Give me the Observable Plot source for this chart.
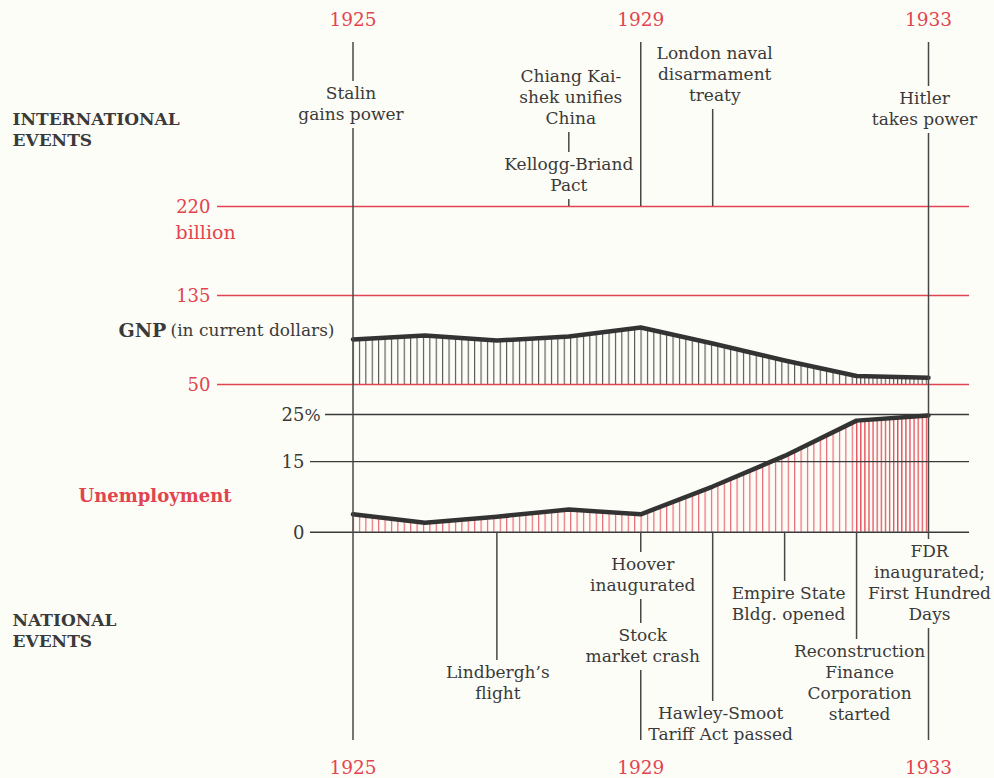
<!DOCTYPE html>
<html>
<head>
<meta charset="utf-8">
<script src="https://cdn.jsdelivr.net/npm/d3@7"></script>
<script src="https://cdn.jsdelivr.net/npm/@observablehq/plot@0.6"></script>
<style>
  html, body { margin: 0; padding: 0; background: #fdfdf7; }
  #chart { position: relative; width: 994px; height: 778px; overflow: hidden; }
</style>
</head>
<body>
<div id="chart"></div>
<script>
// ---------------- DATA ----------------
const years = [1925, 1926, 1927, 1928, 1929, 1930, 1931, 1932, 1933];
const gnpBillions = [93.0, 96.8, 92.0, 95.8, 104.4, 89.2, 72.9, 58.1, 56.4];
const unemploymentPct = [3.8, 2.0, 3.3, 4.8, 3.8, 9.7, 16.2, 23.7, 24.8];
const yearTicks = [1925, 1929, 1933];
const gnpTicks = [50, 135, 220];
const gnpUnit = "billion";
const unemploymentTicks = [0, 15, 25];
const unemploymentUnit = "%";
const internationalYears = [1925, 1928, 1928, 1930, 1933];
const internationalLabels = [
  "Stalin\ngains power",
  "Chiang Kai-\nshek unifies\nChina",
  "Kellogg-Briand\nPact",
  "London naval\ndisarmament\ntreaty",
  "Hitler\ntakes power"
];
const nationalYears = [1927, 1929, 1929, 1930, 1931, 1932, 1933];
const nationalLabels = [
  "Lindbergh’s\nflight",
  "Hoover\ninaugurated",
  "Stock\nmarket crash",
  "Hawley-Smoot\nTariff Act passed",
  "Empire State\nBldg. opened",
  "Reconstruction\nFinance\nCorporation\nstarted",
  "FDR\ninaugurated;\nFirst Hundred\nDays"
];
const sectionTitles = ["INTERNATIONAL\nEVENTS", "NATIONAL\nEVENTS"];
const gnpTitle = ["GNP", "(in current dollars)"];
const unemploymentTitle = "Unemployment";

// ---------------- LAYOUT (positions / styles, not data) ----------------
const L = {
  width: 994, height: 778,
  xRange: [352.5, 928],
  gnpRange: [384, 206], gnpLeft: 217,
  unempRange: [531.7, 414], unempLeft: 310, pctInset: 15,
  rightMargin: 25,
  serif: "'DejaVu Serif', serif",
  ink: "#3a3a3a",
  ruleInk: "#474747",
  red: "#e2444f",
  hatchGray: "#505050",
  hatchRed: "#ea6875",
  hatchRedDense: "#e44a58",
  eventFont: 17, lineH: 21,
  yearFont: 18.5, tickFont: 18,
  yearY: [20, 768], ruleEnds: [42, 740],
  gapAbove: 12, gapBelow: 14,
  intlFirstLine: [93, 76, 164, 53, 98],
  intlDx: [-2, 2, 0, 2, -4],
  natlFirstLine: [672, 564, 635, 713, 593, 651, 551],
  natlDx: [1, 2, 2, 8, 4, 3, 1],
  sectionX: 12, sectionY: [119.5, 620], sectionFont: 17,
  gnpTitleX: [118, 170], gnpTitleY: 330,
  unempTitleX: 78, unempTitleY: 496,
  hatchStep: 6.4, denseStep: 4.1, denseFrom: 1932
};

const gnpSeries = years.map((year, i) => ({year, value: gnpBillions[i]}));
const unempSeries = years.map((year, i) => ({year, value: unemploymentPct[i]}));
const xOptions = {domain: [years[0], years[years.length - 1]], range: L.xRange, axis: null};

function place(svg) {
  Object.assign(svg.style, {position: "absolute", left: "0px", top: "0px", background: "transparent", overflow: "visible", maxWidth: "none"});
  document.getElementById("chart").appendChild(svg);
  return svg;
}
function addHatch(svg, id, step, color, x0, w) {
  const ns = "http://www.w3.org/2000/svg";
  let defs = svg.querySelector("defs");
  if (!defs) { defs = document.createElementNS(ns, "defs"); svg.insertBefore(defs, svg.firstChild); }
  const p = document.createElementNS(ns, "pattern");
  p.setAttribute("id", id);
  p.setAttribute("patternUnits", "userSpaceOnUse");
  p.setAttribute("x", x0);
  p.setAttribute("y", 0);
  p.setAttribute("width", step);
  p.setAttribute("height", 10);
  const r = document.createElementNS(ns, "rect");
  r.setAttribute("x", 0); r.setAttribute("y", 0);
  r.setAttribute("width", w); r.setAttribute("height", 10);
  r.setAttribute("fill", color);
  p.appendChild(r);
  defs.appendChild(p);
}

// ---------------- GNP PANEL ----------------
const gnpPlot = Plot.plot({
  width: L.width, height: L.height,
  marginLeft: L.gnpLeft, marginRight: L.rightMargin,
  marginTop: L.gnpRange[1], marginBottom: L.height - L.gnpRange[0],
  x: xOptions,
  y: {domain: [gnpTicks[0], gnpTicks[gnpTicks.length - 1]], range: L.gnpRange, axis: null},
  marks: [
    Plot.areaY(gnpSeries.filter(d => d.year <= L.denseFrom), {x: "year", y1: gnpTicks[0], y2: "value", fill: "url(#gnp-hatch)"}),
    Plot.areaY(gnpSeries.filter(d => d.year >= L.denseFrom), {x: "year", y1: gnpTicks[0], y2: "value", fill: "url(#gnp-hatch-dense)"}),
    Plot.ruleY(gnpTicks, {stroke: L.red, strokeWidth: 1.6}),
    Plot.text(gnpTicks, {y: d => d, text: d => String(d), frameAnchor: "left", dx: -7, dy: 1, textAnchor: "end", fill: L.red, fontSize: L.tickFont, fontFamily: L.serif}),
    Plot.text([gnpUnit], {y: () => gnpTicks[gnpTicks.length - 1], text: d => d, frameAnchor: "left", dx: -42, dy: 26, textAnchor: "start", fill: L.red, fontSize: L.tickFont + 1, fontFamily: L.serif}),
    Plot.lineY(gnpSeries, {x: "year", y: "value", stroke: "#333", strokeWidth: 4.5, strokeLinejoin: "round"})
  ]
});
place(gnpPlot);
const xs = gnpPlot.scale("x");
addHatch(gnpPlot, "gnp-hatch", L.hatchStep, L.hatchGray, xs.apply(years[0]), 1.1);
addHatch(gnpPlot, "gnp-hatch-dense", L.denseStep, L.hatchGray, xs.apply(L.denseFrom), 1.1);

// ---------------- UNEMPLOYMENT PANEL ----------------
const uMax = unemploymentTicks[unemploymentTicks.length - 1];
const unempPlot = Plot.plot({
  width: L.width, height: L.height,
  marginLeft: L.unempLeft, marginRight: L.rightMargin,
  marginTop: L.unempRange[1], marginBottom: L.height - L.unempRange[0],
  x: xOptions,
  y: {domain: [0, uMax], range: L.unempRange, axis: null},
  marks: [
    Plot.areaY(unempSeries.filter(d => d.year <= L.denseFrom), {x: "year", y1: 0, y2: "value", fill: "url(#un-hatch)"}),
    Plot.areaY(unempSeries.filter(d => d.year >= L.denseFrom), {x: "year", y1: 0, y2: "value", fill: "url(#un-hatch-dense)"}),
    Plot.ruleY(unemploymentTicks.filter(d => d !== uMax), {stroke: L.ink, strokeWidth: 1.4}),
    Plot.ruleY([uMax], {stroke: L.ink, strokeWidth: 1.4, insetLeft: L.pctInset}),
    Plot.text(unemploymentTicks, {y: d => d, text: d => String(d), frameAnchor: "left", dx: -6, dy: 1, textAnchor: "end", fill: L.ink, fontSize: L.tickFont, fontFamily: L.serif}),
    Plot.text([uMax], {y: d => d, text: () => unemploymentUnit, frameAnchor: "left", dx: -6, dy: 1, textAnchor: "start", fill: L.ink, fontSize: L.tickFont - 1, fontFamily: L.serif}),
    Plot.lineY(unempSeries, {x: "year", y: "value", stroke: "#333", strokeWidth: 4.5, strokeLinejoin: "round"})
  ]
});
place(unempPlot);
addHatch(unempPlot, "un-hatch", L.hatchStep, L.hatchRed, xs.apply(years[0]), 1.2);
addHatch(unempPlot, "un-hatch-dense", L.denseStep, L.hatchRedDense, xs.apply(L.denseFrom), 1.3);

// ---------------- EVENTS / ANNOTATION LAYER ----------------
const panelTop = gnpPlot.scale("y").apply(gnpTicks[gnpTicks.length - 1]);
const panelBottom = unempPlot.scale("y").apply(0);

const intlEvents = internationalYears.map((year, i) => ({year, lines: internationalLabels[i].split("\n"), y0: L.intlFirstLine[i], dx: L.intlDx[i]}));
const natlEvents = nationalYears.map((year, i) => ({year, lines: nationalLabels[i].split("\n"), y0: L.natlFirstLine[i], dx: L.natlDx[i]}));
const lastLine = e => e.y0 + (e.lines.length - 1) * L.lineH;

const segments = [];
const seg = (year, y1, y2) => segments.push({year, y1, y2});
// international zone
for (const year of d3.sort(new Set([...yearTicks, ...internationalYears]))) {
  const evs = d3.sort(intlEvents.filter(e => e.year === year), e => e.y0);
  let cur = yearTicks.includes(year) ? L.ruleEnds[0] : null;
  for (const e of evs) {
    if (cur != null) seg(year, cur, e.y0 - L.gapAbove);
    cur = lastLine(e) + L.gapBelow;
  }
  seg(year, cur, panelTop);
}
// frame edges through the data panels
seg(years[0], panelTop, panelBottom);
seg(years[years.length - 1], panelTop, panelBottom);
// national zone
for (const year of d3.sort(new Set([...yearTicks, ...nationalYears]))) {
  const evs = d3.sort(natlEvents.filter(e => e.year === year), e => e.y0);
  let cur = panelBottom;
  for (const e of evs) {
    seg(year, cur, e.y0 - L.gapAbove);
    cur = lastLine(e) + L.gapBelow;
  }
  if (yearTicks.includes(year)) seg(year, cur, L.ruleEnds[1]);
}

const textRows = [];
for (const e of [...intlEvents, ...natlEvents]) {
  e.lines.forEach((t, j) => textRows.push({year: e.year, text: t, y: e.y0 + j * L.lineH, dx: e.dx}));
}
const rowsByDx = d3.group(textRows, d => d.dx);

const sectionRows = [];
sectionTitles.forEach((s, i) => s.split("\n").forEach((t, j) => sectionRows.push({text: t, y: L.sectionY[i] + j * L.lineH})));

const annot = Plot.plot({
  width: L.width, height: L.height,
  margin: 0,
  x: xOptions,
  y: {domain: [0, L.height], range: [0, L.height], axis: null},
  marks: [
    Plot.ruleX(segments, {x: "year", y1: "y1", y2: "y2", stroke: L.ruleInk, strokeWidth: 1.5}),
    ...Array.from(rowsByDx, ([dx, rows]) =>
      Plot.text(rows, {x: "year", y: "y", text: "text", dx, fill: L.ink, fontSize: L.eventFont, fontFamily: L.serif})),
    Plot.text(yearTicks, {x: d => d, y: () => L.yearY[0], text: d => String(d), fill: L.red, fontSize: L.yearFont, fontFamily: L.serif}),
    Plot.text(yearTicks, {x: d => d, y: () => L.yearY[1], text: d => String(d), fill: L.red, fontSize: L.yearFont, fontFamily: L.serif}),
    Plot.text(sectionRows, {frameAnchor: "left", dx: L.sectionX, y: "y", text: "text", textAnchor: "start", fill: L.ink, fontSize: L.sectionFont, fontWeight: "bold", fontFamily: L.serif}),
    Plot.text([gnpTitle[0]], {frameAnchor: "left", dx: L.gnpTitleX[0], y: () => L.gnpTitleY, text: d => d, textAnchor: "start", fill: L.ink, fontSize: 19, fontWeight: "bold", fontFamily: L.serif}),
    Plot.text([gnpTitle[1]], {frameAnchor: "left", dx: L.gnpTitleX[1], y: () => L.gnpTitleY, text: d => d, textAnchor: "start", fill: L.ink, fontSize: L.eventFont, fontFamily: L.serif}),
    Plot.text([unemploymentTitle], {frameAnchor: "left", dx: L.unempTitleX, y: () => L.unempTitleY, text: d => d, textAnchor: "start", fill: L.red, fontSize: 18, fontWeight: "bold", fontFamily: L.serif})
  ]
});
place(annot);
</script>
</body>
</html>
